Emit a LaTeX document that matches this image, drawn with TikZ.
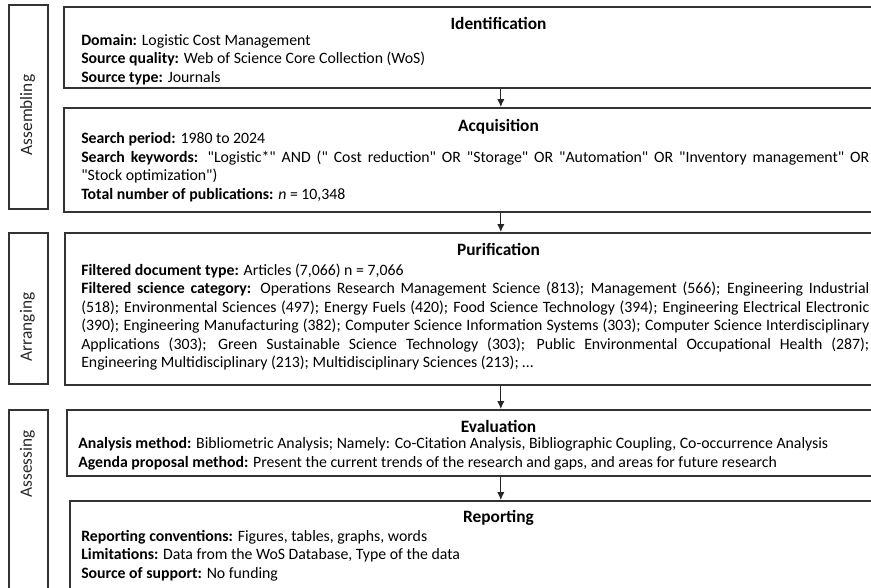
\documentclass[tikz,border=0pt]{standalone}
\usepackage{fontspec}
\setmainfont{Carlito}[Ligatures=TeXOff]
\usetikzlibrary{arrows.meta}
\hyphenpenalty=10000
\exhyphenpenalty=10000

\begin{document}
\begin{tikzpicture}[x=0.75pt,y=-0.75pt,
box/.style={draw=black!80,line width=1.2pt,rectangle,anchor=north west,inner sep=0pt},
stagebox/.style={box,minimum width=29.25pt},
stagelbl/.style={rotate=90,inner sep=0pt,font=\fontsize{13}{15}\selectfont,text=black!85},
ttl/.style={anchor=base,inner sep=0pt,font=\fontsize{13}{15}\selectfont\bfseries},
body/.style={anchor=base west,inner sep=0pt,text width=591pt,align=justify,font=\fontsize{11.85}{13.9}\selectfont},
arr/.style={-{Latex[length=6pt,width=5.5pt]},line width=0.8pt,black!85}]
\useasboundingbox (0,0) rectangle (871,587);
\clip (0,0) rectangle (871,587);

% stages on the left
\node[stagebox,minimum height=153pt] (assem) at (8,4) {};
\node[stagebox,minimum height=113.25pt] (arran) at (8,232) {};
\node[stagebox,minimum height=160pt] (asses) at (8,409) {};
\node[stagelbl] (assemlbl) at (27.5,115) {Assembling};
\node[stagelbl] (arranlbl) at (27.5,327) {Arranging};
\node[stagelbl] (asseslbl) at (27.5,464) {Assessing};

% steps
\node[box,minimum width=655.5pt,minimum height=60.75pt] (ident) at (63,6) {};
\node[box,minimum width=655.5pt,minimum height=78pt] (acq) at (63,107) {};
\node[box,minimum width=654pt,minimum height=114pt] (pur) at (64,232) {};
\node[box,minimum width=651pt,minimum height=49.5pt] (eval) at (66,409) {};
\node[box,minimum width=646.5pt,minimum height=90pt] (rep) at (69,500) {};

\node[ttl] (identttl) at (498.5,29.5) {Identification};
\node[ttl] (acqttl) at (498.5,131.7) {Acquisition};
\node[ttl] (purttl) at (498.5,255) {Purification};
\node[ttl] (evalttl) at (498.5,432.7) {Evaluation};
\node[ttl] (repttl) at (498.5,522.7) {Reporting};

\node[body] (identtxt) at (81,45) {\textbf{Domain:} Logistic Cost Management\\
\textbf{Source quality:} Web of Science Core Collection (WoS)\\
\textbf{Source type:} Journals};

\node[body] (acqtxt) at (81,143.5) {\textbf{Search period:} 1980 to 2024\\
\textbf{Search keywords:} "Logistic*" AND (" Cost reduction" OR "Storage" OR "Automation" OR "Inventory management" OR\linebreak
"Stock optimization")\\
\textbf{Total number of publications:} \textit{n} = 10,348};

\node[body] (purtxt) at (81,275) {\textbf{Filtered document type:} Articles (7,066) n = 7,066\\
\textbf{Filtered science category:} Operations Research Management Science (813); Management (566); Engineering Industrial\linebreak
(518); Environmental Sciences (497); Energy Fuels (420); Food Science Technology (394); Engineering Electrical Electronic\linebreak
(390); Engineering Manufacturing (382); Computer Science Information Systems (303); Computer Science Interdisciplinary\linebreak
Applications (303); Green Sustainable Science Technology (303); Public Environmental Occupational Health (287);\linebreak
Engineering Multidisciplinary (213); Multidisciplinary Sciences (213); …};

\node[body] (evaltxt) at (78,448.5) {\textbf{Analysis method:} Bibliometric Analysis; Namely: Co-Citation Analysis, Bibliographic Coupling, Co-occurrence Analysis\\
\textbf{Agenda proposal method:} Present the current trends of the research and gaps, and areas for future research};

\node[body] (reptxt) at (81,541) {\textbf{Reporting conventions:} Figures, tables, graphs, words\\
\textbf{Limitations:} Data from the WoS Database, Type of the data\\
\textbf{Source of support:} No funding};

\draw[arr] (ident) -- (acq);
\draw[arr] (acq) -- (pur);
\draw[arr] (pur) -- (eval);
\draw[arr] (eval) -- (rep);
\end{tikzpicture}
\end{document}
